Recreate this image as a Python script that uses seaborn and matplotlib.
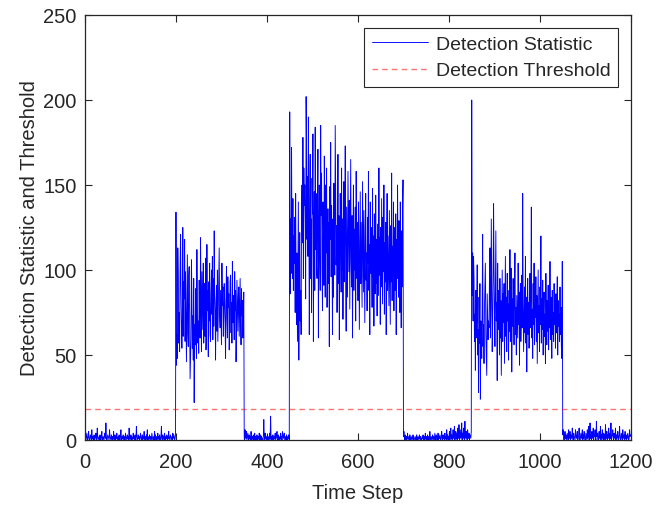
import numpy as np
import pandas as pd
import matplotlib
matplotlib.use("Agg")
import matplotlib.pyplot as plt
import seaborn as sns

quiet1 = [1,3,0,2,4,1,0,2,5,1,
0,1,3,2,0,6,1,2,0,1,
3,0,1,2,4,0,1,7,2,0,
1,2,0,3,1,0,2,5,1,0,
2,1,0,4,3,1,10,2,0,1,
3,2,1,0,6,2,1,0,3,1,
0,2,1,5,0,1,3,0,2,1,
4,0,1,2,0,3,1,0,2,6,
1,0,2,1,3,0,1,2,0,4,
2,1,0,3,1,2,0,7,1,0,
1,3,0,2,1,0,4,1,2,0,
3,1,0,8,2,1,0,3,1,2,
0,1,4,2,0,1,3,0,2,1,
5,0,1,2,0,3,1,6,0,2,
1,0,3,1,2,0,1,4,2,0,
1,2,0,5,1,3,0,2,1,0,
4,1,2,0,3,1,0,2,8,1,
0,3,1,2,0,4,1,0,2,1,
3,0,2,1,5,0,1,2,3,0,
1,2,0,4,1,3,2,0,1,3]

burst1 = [134,44,62,48,113,96,57,75,52,99,
121,88,67,54,72,125,61,93,83,118,
58,99,71,46,80,109,63,55,97,102,
74,36,49,60,106,85,54,73,47,95,
22,68,56,89,63,48,112,75,57,70,
51,94,66,60,119,78,52,99,83,65,
104,57,78,92,61,107,53,66,115,76,
88,49,93,70,104,62,58,86,100,74,
108,59,95,67,123,85,75,47,80,91,
64,100,58,77,96,113,73,66,88,71,
56,104,79,90,61,74,92,82,67,48,
85,102,72,60,96,78,86,53,70,93,
97,63,81,57,105,69,85,74,59,99,
76,88,46,66,94,79,64,85,90,61,
78,95,71,56,89,73,82,60,72,87]

quiet2 = [1,0,6,2,1,5,0,2,4,1,
0,3,1,2,0,5,1,0,2,1,
3,0,1,4,0,2,1,0,3,1,
0,2,1,4,0,1,3,0,2,1,
1,0,2,12,3,0,4,1,2,0,
1,3,0,2,1,0,4,1,14,0,
2,1,0,3,1,0,2,1,4,0,
1,2,5,0,1,3,0,2,1,0,
4,1,2,0,5,3,1,2,4,0,
1,2,0,3,1,0,2,1,3,0]

burst2 = [193,86,130,98,172,110,95,142,88,120,
104,131,75,145,92,68,110,58,98,140,
47,99,122,70,88,62,135,150,116,178,
95,160,138,150,128,83,202,170,118,155,
108,190,141,62,124,168,95,130,75,154,
133,180,58,120,146,88,184,112,145,102,
95,140,171,60,122,150,108,88,185,132,
157,100,76,140,125,91,167,118,84,150,
110,160,78,103,136,92,128,55,149,118,
175,96,138,110,62,130,84,151,120,97,
185,140,103,126,75,115,168,92,132,59,
108,145,122,87,160,100,130,71,118,152,
93,122,173,102,64,137,111,84,158,126,
99,141,77,120,165,105,90,132,60,115,
150,88,124,100,137,70,158,113,95,128,
82,140,117,65,106,146,92,128,100,78,
152,119,87,135,102,69,123,145,94,110,
76,131,104,158,88,115,62,140,98,125,
110,78,148,96,120,67,133,101,86,144,
92,118,73,127,104,85,160,97,119,68,
125,90,142,108,80,131,99,150,74,116,
93,128,62,110,145,88,120,100,79,135,
104,68,126,93,157,82,114,97,140,76,
110,125,88,133,62,118,95,150,106,84,
129,98,75,140,112,66,123,90,136,153]

quiet3 = [2,5,1,0,3,1,0,2,1,4,
0,1,2,0,3,1,0,2,1,0,
1,3,0,2,1,0,1,2,0,3,
1,0,2,1,0,3,1,2,0,1,
0,2,1,3,0,1,2,0,4,1,
2,0,1,3,0,2,1,0,5,1,
0,2,1,0,3,1,2,0,1,4,
1,0,3,2,0,1,4,0,2,1,
3,1,0,2,5,1,0,3,1,2,
0,4,1,2,0,6,1,3,0,2,
1,5,0,2,7,1,3,0,2,6,
1,3,8,0,2,5,1,4,0,7,
2,1,9,0,3,6,1,2,10,0,
4,1,7,2,0,11,3,1,5,2,
0,6,2,1,4,0,3,2,1,5]

burst3 = [200,85,110,70,108,96,58,74,41,88,
60,72,103,50,65,28,84,57,92,24,
70,62,48,80,121,55,68,45,78,90,
104,63,50,38,86,72,59,70,66,95,
113,60,79,130,88,52,68,96,139,100,
74,55,92,123,70,81,35,104,65,88,
77,50,95,60,82,38,72,100,58,86,
69,92,45,76,108,61,84,52,98,70,
80,47,88,64,112,58,76,101,40,83,
67,95,72,56,89,110,62,78,50,85,
73,60,104,68,87,44,79,92,58,75,
97,66,145,80,52,71,90,63,108,57,
84,40,76,95,62,81,54,70,98,66,
88,137,60,77,48,92,68,104,56,80,
72,96,58,85,45,74,100,63,79,52,
90,68,120,57,83,65,94,50,76,87,
61,74,45,98,70,56,82,64,91,53,
78,66,105,59,84,72,48,88,62,75,
58,92,68,80,54,86,63,71,96,50,
82,67,74,58,90,62,78,55,48,105]

quiet4 = [3,6,1,0,2,5,1,3,0,2,
4,1,0,6,2,1,5,0,3,1,
2,7,1,0,4,2,1,0,6,3,
1,2,5,0,1,3,7,1,0,2,
4,1,2,6,0,3,1,5,2,0,
1,4,2,0,6,1,3,8,0,2,
10,1,3,0,5,2,1,7,0,3,
2,6,1,0,11,2,4,1,0,3,
5,1,2,8,0,3,1,6,2,0,
4,1,3,0,9,2,1,5,0,3,
1,7,2,0,4,1,10,0,2,3,
6,1,0,4,2,1,7,0,3,1,
2,5,0,1,3,8,1,0,2,4,
1,0,6,2,1,3,0,5,1,2,
0,3,1,4,2,0,1,6,2,3]

threshold = 18.2
x_ticks = [0, 200, 400, 600, 800, 1000, 1200]
y_ticks = [0, 50, 100, 150, 200, 250]

segments = [quiet1, burst1, quiet2, burst2, quiet3, burst3, quiet4]
values = np.concatenate([np.array(s, dtype=float) for s in segments])
steps = np.arange(len(values))
df = pd.DataFrame({"step": steps, "stat": values})

sns.set_theme(style="white")
plt.rcParams['font.family'] = ['Liberation Sans', 'DejaVu Sans']

fig = plt.figure(figsize=(6.67, 5.06), dpi=100)
ax = fig.add_axes([0.1274, 0.1285, 0.8186, 0.8399])

sns.lineplot(data=df, x="step", y="stat", ax=ax, color=(0, 0, 1), lw=0.65,
             label="Detection Statistic", estimator=None)
ax.axhline(threshold, color=(1, 0, 0), alpha=0.55, lw=1.0, ls=(0, (4, 3)),
           label="Detection Threshold")

ax.set_xlim(0, 1200)
ax.set_ylim(0, 250)
ax.set_xticks(x_ticks)
ax.set_yticks(y_ticks)
ax.set_xlabel("Time Step", fontsize=14.5, color="#262626", labelpad=8)
ax.set_ylabel("Detection Statistic and Threshold", fontsize=14.5,
              color="#262626", labelpad=3)
ax.tick_params(direction="in", length=5, width=0.8, colors="#262626",
               labelsize=14.5, top=True, right=True, bottom=True, left=True,
               labelcolor="#262626")
ax.tick_params(axis="x", pad=9)
ax.tick_params(axis="y", pad=6)
for sp in ax.spines.values():
    sp.set_color("#262626")
    sp.set_linewidth(0.9)
    sp.set_visible(True)

leg = ax.legend(loc="upper right", fontsize=14, frameon=True, fancybox=False,
                edgecolor="#262626", framealpha=1.0, borderpad=0.4,
                handlelength=2.9, handletextpad=0.4, labelspacing=0.45,
                borderaxespad=0.65)
leg.get_frame().set_linewidth(0.8)

fig.savefig("out.png", dpi=100)
